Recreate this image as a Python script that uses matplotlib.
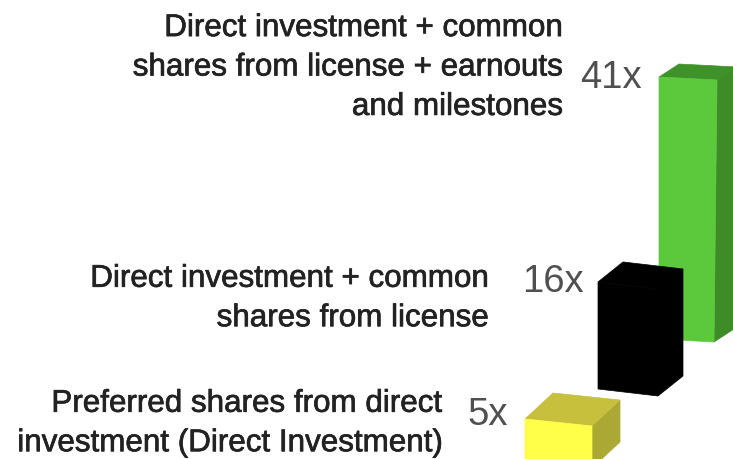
import matplotlib
matplotlib.use('Agg')
import matplotlib.pyplot as plt
import matplotlib.patheffects as pe

plt.rcParams['font.family'] = ['Liberation Sans', 'DejaVu Sans']

# Data, front to back
categories = ['Preferred shares from direct\ninvestment (Direct Investment)',
              'Direct investment + common\nshares from license',
              'Direct investment + common\nshares from license + earnouts\nand milestones']
multiples = [5, 16, 41]
value_labels = ['5x', '16x', '41x']

# Colours for front, top, side
front_colors = ['#FFFF4A', '#000000', '#5CC83C']
top_colors = ['#C6C03C', '#000000', '#3F9229']
side_colors = ['#ABA834', '#000000', '#3E8C28']

# Fake perspective, in pixels: each bar gets its own spot
lefts = [525, 598, 659]
bases = [462, 390, 340]
widths = [67, 60, 55]
skews = [7, 7, 3]
flares = [0, 0, 3]
depth_x = [28, 25, 20]
depth_y = [-26, -20, -13]
units = [8.4, 6.69, 6.39]
text_right = [443, 489, 563]
text_y = [424.5, 299.5, 68.5]
label_x = [488, 553, 611]
label_y = [415, 282, 78]

fig = plt.figure(figsize=(7.33, 4.6), dpi=100)
ax = fig.add_axes([0, 0, 1, 1])
ax.set_xlim(0, 733)
ax.set_ylim(460, 0)
ax.axis('off')

for i in range(len(multiples)):
    h = multiples[i] * units[i]
    x0 = lefts[i]
    x1 = x0 + widths[i]
    x1t = x1 + flares[i]
    y0 = bases[i]
    y1 = y0 + skews[i]
    dx = depth_x[i]
    dy = depth_y[i]
    # side
    ax.fill([x1, x1 + dx, x1t + dx, x1t],
            [y1, y1 + dy, y1 + dy - h, y1 - h],
            color=side_colors[i], lw=0.5, zorder=3 - i)
    # top
    ax.fill([x0, x1t, x1t + dx, x0 + dx],
            [y0 - h, y1 - h, y1 - h + dy, y0 - h + dy],
            color=top_colors[i], lw=0.5, zorder=3 - i)
    # front
    ax.fill([x0, x1, x1t, x0], [y0, y1, y1 - h, y0 - h],
            color=front_colors[i], lw=0.5, zorder=3 - i)

    ax.text(text_right[i], text_y[i], categories[i], ha='right', va='center',
            fontsize=22.6, color='#222222', linespacing=1.41, zorder=5,
            path_effects=[pe.withStroke(linewidth=0.5, foreground='#222222')])
    ax.text(label_x[i], label_y[i], value_labels[i], ha='center', va='center',
            fontsize=27.5, color='#505050', zorder=5)

fig.savefig('out.png', dpi=100)
